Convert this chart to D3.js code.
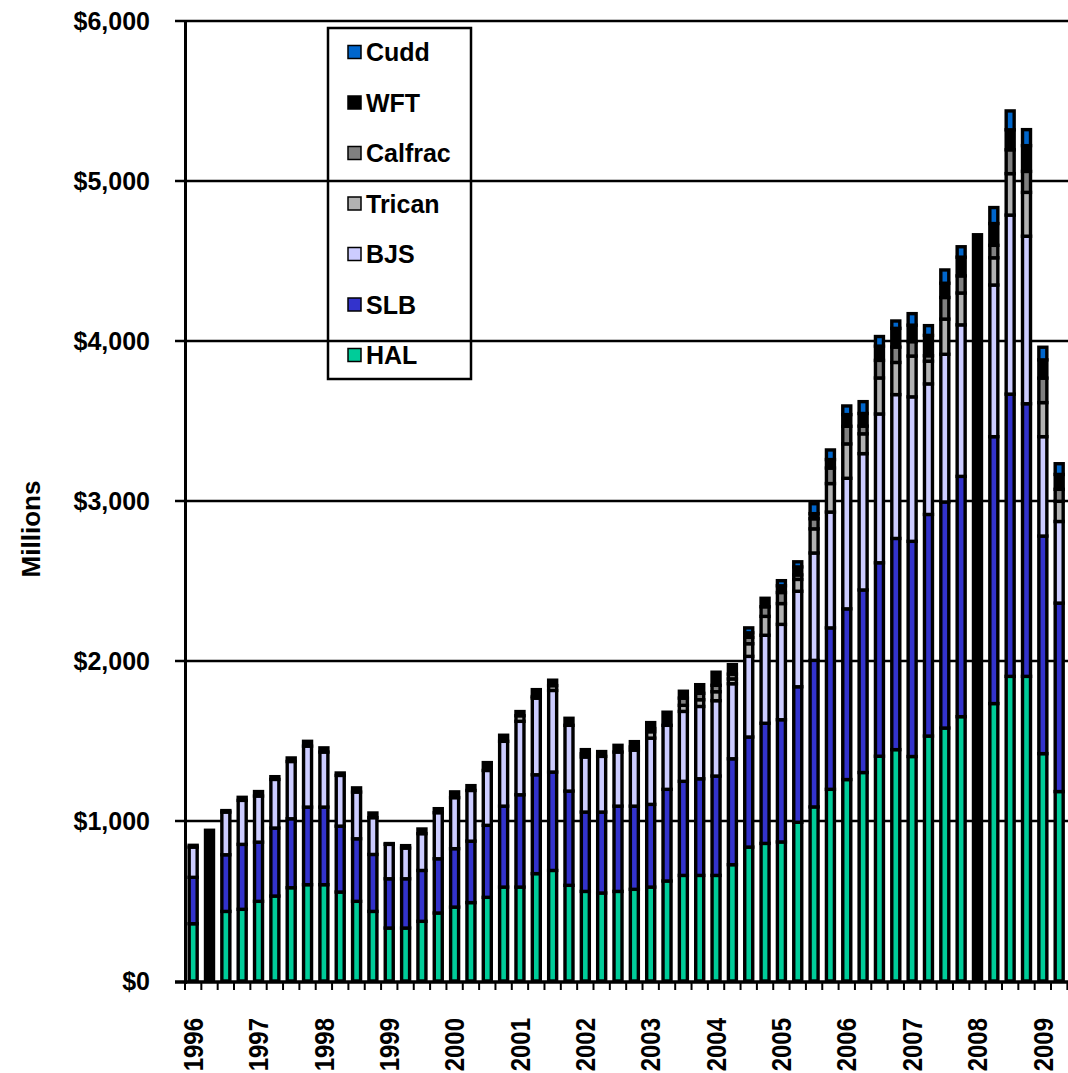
<!DOCTYPE html>
<html><head><meta charset="utf-8">
<script src="https://cdn.jsdelivr.net/npm/d3@7"></script>
<style>
body{margin:0;background:#fff}
svg{display:block}
text{font-family:"Liberation Sans",Arial,sans-serif;font-weight:bold;fill:#000}
</style>
</head><body><svg id="c" width="1068" height="1073"></svg>
<script>
const quarters = ["1996Q1","1996Q2","1996Q3","1996Q4","1997Q1","1997Q2","1997Q3","1997Q4","1998Q1","1998Q2","1998Q3","1998Q4","1999Q1","1999Q2","1999Q3","1999Q4","2000Q1","2000Q2","2000Q3","2000Q4","2001Q1","2001Q2","2001Q3","2001Q4","2002Q1","2002Q2","2002Q3","2002Q4","2003Q1","2003Q2","2003Q3","2003Q4","2004Q1","2004Q2","2004Q3","2004Q4","2005Q1","2005Q2","2005Q3","2005Q4","2006Q1","2006Q2","2006Q3","2006Q4","2007Q1","2007Q2","2007Q3","2007Q4","2008Q1","2008Q2","2008Q3","2008Q4","2009Q1","2009Q2"];
const HAL = [358,0,435,448,498,531,583,602,602,556,498,435,331,331,373,425,462,490,523,587,587,671,691,598,560,550,560,573,587,625,660,660,660,727,837,860,869,992,1088,1198,1259,1303,1405,1446,1403,1531,1581,1652,0,1734,1904,1904,1421,1184];
const SLB = [290,0,354,406,370,425,431,485,485,412,391,356,308,308,318,339,365,384,450,506,577,618,615,589,496,506,533,520,517,573,588,604,621,662,688,751,764,847,916,1009,1067,1141,1209,1320,1345,1385,1413,1502,0,1668,1764,1704,1360,1178];
const BJS = [189,0,267,275,288,304,358,381,344,317,292,230,215,192,230,288,319,317,343,405,459,479,510,411,344,348,338,350,414,400,437,452,471,469,504,550,596,597,671,724,816,852,930,899,903,816,923,947,0,948,1119,1047,621,510];
const Trican = [0,0,0,0,0,0,0,0,0,0,0,0,0,0,0,0,0,0,0,0,35,10,30,0,20,0,0,20,40,0,38,42,56,30,79,118,130,74,151,178,215,124,225,201,255,142,220,199,0,170,259,274,213,126];
const Calfrac = [0,0,0,0,0,0,0,0,0,0,0,0,0,0,0,0,0,0,0,0,0,0,0,0,0,0,0,0,20,0,45,40,40,30,40,60,69,28,63,97,110,48,110,96,90,34,135,107,0,78,149,131,153,75];
const WFT = [11,942,9,19,28,17,22,30,26,15,26,29,5,15,29,25,36,30,49,38,26,43,34,44,26,30,42,33,37,82,43,54,82,59,28,53,42,50,32,53,73,79,89,117,103,127,89,117,4664,136,125,161,114,93];
const Cudd = [0,0,0,0,0,0,0,0,0,0,0,0,0,0,0,0,0,0,0,0,0,0,0,0,0,0,0,0,0,0,0,0,0,0,31,0,32,32,62,60,54,74,60,46,72,61,83,65,0,100,118,100,79,67];
const seriesNames = ["HAL","SLB","BJS","Trican","Calfrac","WFT","Cudd"];
const seriesColors = ["#00CC99","#3333CC","#CCCCFF","#B2B2B2","#808080","#000000","#0066CC"];
const yTicks = [0,1000,2000,3000,4000,5000,6000];
const yearLabels = ["1996","1997","1998","1999","2000","2001","2002","2003","2004","2005","2006","2007","2008","2009"];
const yTitle = "Millions";

const svg = d3.select("#c");
const left = 185, bandW = 16.34, barW = 8, strokeW = 3.4;
const x = d3.scaleBand().domain(quarters).range([left, left + quarters.length * bandW]).padding(0);
const y = d3.scaleLinear().domain([0, 6000]).range([981, 21]);
const color = d3.scaleOrdinal().domain(seriesNames).range(seriesColors);

// gridlines
svg.append("g").selectAll("line").data(yTicks.filter(v => v > 0)).join("line")
  .attr("x1", 175).attr("x2", 1068)
  .attr("y1", d => y(d)).attr("y2", d => y(d))
  .attr("stroke", "#000").attr("stroke-width", 2.5);

// stacked data
const seriesArrays = {HAL, SLB, BJS, Trican, Calfrac, WFT, Cudd};
const rows = quarters.map((q, i) => {
  const r = {q};
  seriesNames.forEach(n => r[n] = seriesArrays[n][i]);
  return r;
});
const stacked = d3.stack().keys(seriesNames)(rows);

const gBars = svg.append("g");
stacked.forEach(layer => {
  gBars.append("g").selectAll("rect")
    .data(layer.filter(d => d[1] - d[0] > 0))
    .join("rect")
    .attr("x", d => x(d.data.q) + (x.bandwidth() - barW) / 2)
    .attr("width", barW)
    .attr("y", d => y(d[1]))
    .attr("height", d => y(d[0]) - y(d[1]))
    .attr("fill", color(layer.key))
    .attr("stroke", "#000")
    .attr("stroke-width", strokeW);
});

// axes lines
svg.append("line").attr("x1", 175).attr("x2", 1068).attr("y1", y(0) + 1).attr("y2", y(0) + 1)
  .attr("stroke", "#000").attr("stroke-width", 3.5);
svg.append("line").attr("x1", left + 0.5).attr("x2", left + 0.5).attr("y1", y(6000) - 1).attr("y2", y(0) + 3)
  .attr("stroke", "#000").attr("stroke-width", 3);

// x ticks at band boundaries
const boundaries = quarters.map(q => x(q)).concat([x(quarters[quarters.length - 1]) + x.bandwidth()]);
svg.append("g").selectAll("line").data(boundaries).join("line")
  .attr("x1", d => d).attr("x2", d => d)
  .attr("y1", y(0) + 2).attr("y2", y(0) + 9)
  .attr("stroke", "#000").attr("stroke-width", 2);

// y tick labels
svg.append("g").selectAll("text").data(yTicks).join("text")
  .attr("x", 150).attr("y", d => y(d))
  .attr("text-anchor", "end").attr("dominant-baseline", "central")
  .attr("font-size", 25)
  .text(d => "$" + d3.format(",")(d));

// year labels
svg.append("g").selectAll("text").data(yearLabels).join("text")
  .attr("transform", d => `translate(${x(d + "Q1") + x.bandwidth() / 2},1018) rotate(-90) scale(1,1.18)`)
  .attr("text-anchor", "end").attr("dominant-baseline", "central")
  .attr("font-size", 24)
  .text(d => d);

// y title
svg.append("text").attr("transform", "translate(31,529) rotate(-90)")
  .attr("text-anchor", "middle").attr("dominant-baseline", "central")
  .attr("font-size", 26).text(yTitle);

// legend
const legendOrder = ["Cudd","WFT","Calfrac","Trican","BJS","SLB","HAL"];
const lg = svg.append("g");
lg.append("rect").attr("x", 328).attr("y", 28).attr("width", 143).attr("height", 351)
  .attr("fill", "none").attr("stroke", "#000").attr("stroke-width", 2.5);
const items = lg.selectAll("g.item").data(legendOrder).join("g")
  .attr("transform", (d, i) => `translate(0,${52 + i * 50.5})`);
items.append("rect").attr("x", 348).attr("y", -6.5).attr("width", 13).attr("height", 13)
  .attr("fill", d => color(d)).attr("stroke", "#000").attr("stroke-width", 1.5);
items.append("text").attr("x", 366).attr("y", 0).attr("dominant-baseline", "central")
  .attr("font-size", 25).text(d => d);
</script>
</body></html>
